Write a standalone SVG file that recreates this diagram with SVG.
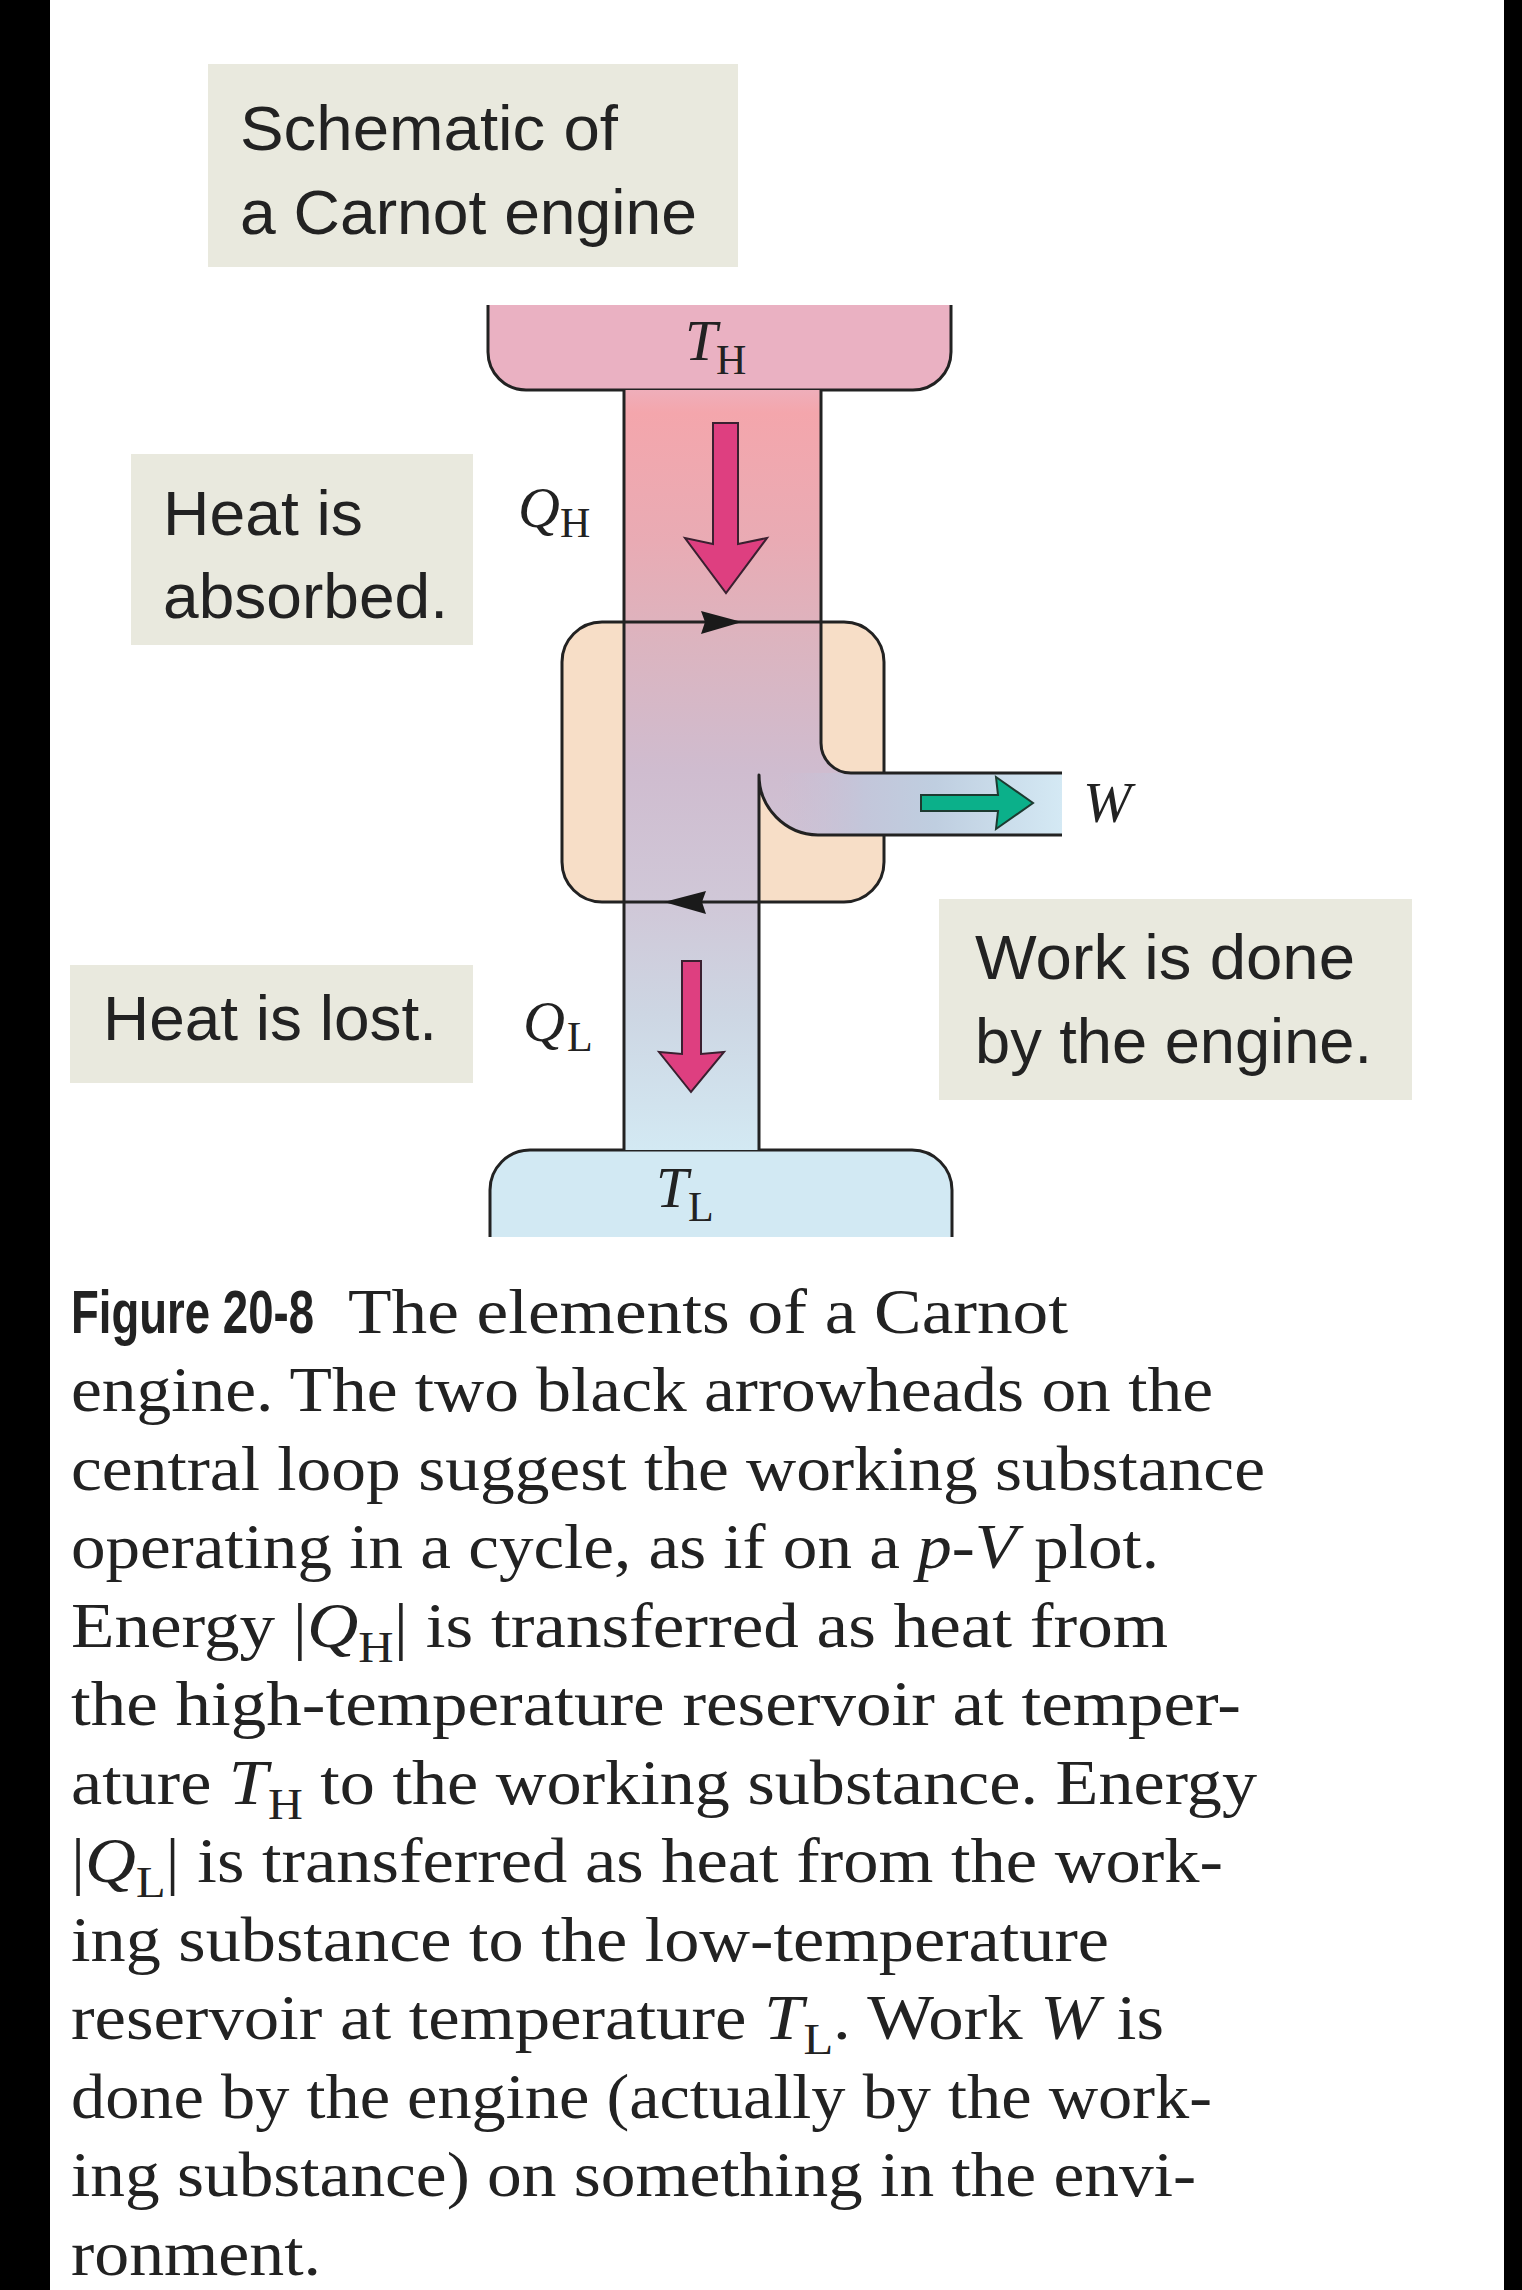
<svg xmlns="http://www.w3.org/2000/svg" width="1522" height="2290" viewBox="0 0 1522 2290">
<style>
.box{fill:#e9e9de}
.lbl{font-family:"Liberation Sans",Arial,sans-serif;font-size:63px;fill:#222}
.math{font-family:"Liberation Serif","Times New Roman",serif;fill:#222}
.it{font-style:italic}
.cap{font-family:"Liberation Serif","Times New Roman",serif;font-size:64px;fill:#222}
.fig{font-family:"Liberation Sans Narrow","Liberation Sans",Arial,sans-serif;font-weight:bold;font-size:48px;fill:#222}
.ln{fill:none;stroke:#222;stroke-width:3;stroke-linejoin:round}
</style>
<defs>
<linearGradient id="colg" gradientUnits="userSpaceOnUse" x1="0" y1="390" x2="0" y2="1150">
<stop offset="0" stop-color="#efaeba"/>
<stop offset="0.03" stop-color="#f4a6ac"/>
<stop offset="0.2" stop-color="#e9abb4"/>
<stop offset="0.33" stop-color="#dcb4bf"/>
<stop offset="0.5" stop-color="#cfbccf"/>
<stop offset="0.68" stop-color="#d0c8d8"/>
<stop offset="0.82" stop-color="#cdd6e3"/>
<stop offset="1" stop-color="#d3e9f3"/>
</linearGradient>
<linearGradient id="wg" gradientUnits="userSpaceOnUse" x1="780" y1="0" x2="1062" y2="0">
<stop offset="0" stop-color="#c8c0d6" stop-opacity="0"/>
<stop offset="0.3" stop-color="#c3c6da" stop-opacity="1"/>
<stop offset="0.55" stop-color="#bfcee0"/>
<stop offset="1" stop-color="#d4e9f4"/>
</linearGradient>
<clipPath id="colclip">
<path d="M624 390 L821 390 L821 743 A30 30 0 0 0 851 773 L1062 773 L1062 835 L818 835 A60 60 0 0 1 759 775 L759 1150 L624 1150 Z"/>
</clipPath>
</defs>

<rect x="0" y="0" width="1522" height="2290" fill="#000"/>
<rect x="50" y="0" width="1454" height="2290" fill="#fff"/>

<g id="title-box">
<rect class="box" x="208" y="64" width="530" height="203"/>
<text class="lbl" x="240" y="150" textLength="378" lengthAdjust="spacingAndGlyphs">Schematic of</text>
<text class="lbl" x="240" y="234" textLength="457" lengthAdjust="spacingAndGlyphs">a Carnot engine</text>
</g>

<g id="heat-absorbed">
<rect class="box" x="131" y="454" width="342" height="191"/>
<text class="lbl" x="163" y="535" textLength="200" lengthAdjust="spacingAndGlyphs">Heat is</text>
<text class="lbl" x="163" y="618" textLength="285" lengthAdjust="spacingAndGlyphs">absorbed.</text>
</g>

<g id="heat-lost">
<rect class="box" x="70" y="965" width="403" height="118"/>
<text class="lbl" x="103" y="1040" textLength="334" lengthAdjust="spacingAndGlyphs">Heat is lost.</text>
</g>

<g id="work-done">
<rect class="box" x="939" y="899" width="473" height="201"/>
<text class="lbl" x="975" y="979" textLength="380" lengthAdjust="spacingAndGlyphs">Work is done</text>
<text class="lbl" x="975" y="1063" textLength="397" lengthAdjust="spacingAndGlyphs">by the engine.</text>
</g>

<g id="hot-reservoir">
<path d="M488 305 L488 352 A38 38 0 0 0 526 390 L913 390 A38 38 0 0 0 951 352 L951 305 Z" fill="#eab1c2"/>
<path class="ln" d="M488 305 L488 352 A38 38 0 0 0 526 390 L913 390 A38 38 0 0 0 951 352 L951 305"/>
<text class="math it" x="685" y="360" font-size="58">T</text>
<text class="math" x="716" y="374" font-size="42">H</text>
</g>

<g id="cold-reservoir">
<path d="M490 1237 L490 1190 A40 40 0 0 1 530 1150 L912 1150 A40 40 0 0 1 952 1190 L952 1237 Z" fill="#d2e9f3"/>
<path class="ln" d="M490 1237 L490 1190 A40 40 0 0 1 530 1150 L912 1150 A40 40 0 0 1 952 1190 L952 1237"/>
<text class="math it" x="656" y="1207" font-size="58">T</text>
<text class="math" x="688" y="1221" font-size="42">L</text>
</g>

<g id="engine">
<rect x="562" y="622" width="322" height="280" rx="40" ry="40" fill="#f7dec7" stroke="#222" stroke-width="3"/>
</g>

<g id="working-substance">
<path d="M624 390 L821 390 L821 743 A30 30 0 0 0 851 773 L1062 773 L1062 835 L818 835 A60 60 0 0 1 759 775 L759 1150 L624 1150 Z" fill="url(#colg)"/>
<rect x="760" y="773" width="302" height="62" fill="url(#wg)" clip-path="url(#colclip)"/>
<path class="ln" d="M624 390 L624 1150"/>
<path class="ln" d="M821 390 L821 743 A30 30 0 0 0 851 773 L1062 773"/>
<path class="ln" d="M1062 835 L818 835 A60 60 0 0 1 759 775 L759 1150"/>
</g>

<g id="connectors">
<path class="ln" d="M624 622 L821 622"/>
<path class="ln" d="M624 902 L759 902"/>
<polygon points="701,611 742,622 701,634 705,622" fill="#1a1a1a"/>
<polygon points="706,891 664,902 706,914 702,902" fill="#1a1a1a"/>
<polygon points="713,423 738,423 738,544 767,538 726,593 685,538 713,544" fill="#de3f80" stroke="#3a2030" stroke-width="2" stroke-linejoin="miter"/>
<polygon points="682,961 701,961 701,1054 724,1052 691,1092 659,1052 682,1054" fill="#de3f80" stroke="#3a2030" stroke-width="2"/>
<polygon points="921,795 998,795 996,777 1033,803 996,829 998,811 921,811" fill="#0bb08a" stroke="#1d3a30" stroke-width="2"/>
</g>

<g id="labels">
<text class="math it" x="518" y="527" font-size="58">Q</text>
<text class="math" x="560" y="537" font-size="42">H</text>
<text class="math it" x="523" y="1041" font-size="58">Q</text>
<text class="math" x="567" y="1051" font-size="42">L</text>
<text class="math it" x="1083" y="822" font-size="58">W</text>
</g>

<g id="caption">
<text class="fig" transform="translate(71 1333) scale(1 1.28)" x="0" y="0" textLength="243" lengthAdjust="spacingAndGlyphs">Figure 20-8</text>
<text class="cap" x="348" y="1333" textLength="720" lengthAdjust="spacingAndGlyphs">The elements of a Carnot</text>
<text class="cap" x="71" y="1411" textLength="1142" lengthAdjust="spacingAndGlyphs">engine. The two black arrowheads on the</text>
<text class="cap" x="71" y="1490" textLength="1194" lengthAdjust="spacingAndGlyphs">central loop suggest the working substance</text>
<text class="cap" x="71" y="1568" textLength="1088" lengthAdjust="spacingAndGlyphs">operating in a cycle, as if on a <tspan font-style="italic">p</tspan>-<tspan font-style="italic">V</tspan> plot.</text>
<text class="cap" x="71" y="1647" textLength="1097" lengthAdjust="spacingAndGlyphs">Energy |<tspan font-style="italic">Q</tspan><tspan font-size="44" dy="15">H</tspan><tspan dy="-15">| is transferred as heat from</tspan></text>
<text class="cap" x="71" y="1725" textLength="1170" lengthAdjust="spacingAndGlyphs">the high-temperature reservoir at temper-</text>
<text class="cap" x="71" y="1804" textLength="1186" lengthAdjust="spacingAndGlyphs">ature <tspan font-style="italic">T</tspan><tspan font-size="44" dy="15">H</tspan><tspan dy="-15"> to the working substance. Energy</tspan></text>
<text class="cap" x="71" y="1882" textLength="1152" lengthAdjust="spacingAndGlyphs">|<tspan font-style="italic">Q</tspan><tspan font-size="44" dy="15">L</tspan><tspan dy="-15">| is transferred as heat from the work-</tspan></text>
<text class="cap" x="71" y="1961" textLength="1038" lengthAdjust="spacingAndGlyphs">ing substance to the low-temperature</text>
<text class="cap" x="71" y="2039" textLength="1093" lengthAdjust="spacingAndGlyphs">reservoir at temperature <tspan font-style="italic">T</tspan><tspan font-size="44" dy="15">L</tspan><tspan dy="-15">. Work </tspan><tspan font-style="italic">W</tspan> is</text>
<text class="cap" x="71" y="2118" textLength="1141" lengthAdjust="spacingAndGlyphs">done by the engine (actually by the work-</text>
<text class="cap" x="71" y="2196" textLength="1125" lengthAdjust="spacingAndGlyphs">ing substance) on something in the envi-</text>
<text class="cap" x="71" y="2275" textLength="250" lengthAdjust="spacingAndGlyphs">ronment.</text>
</g>
</svg>
